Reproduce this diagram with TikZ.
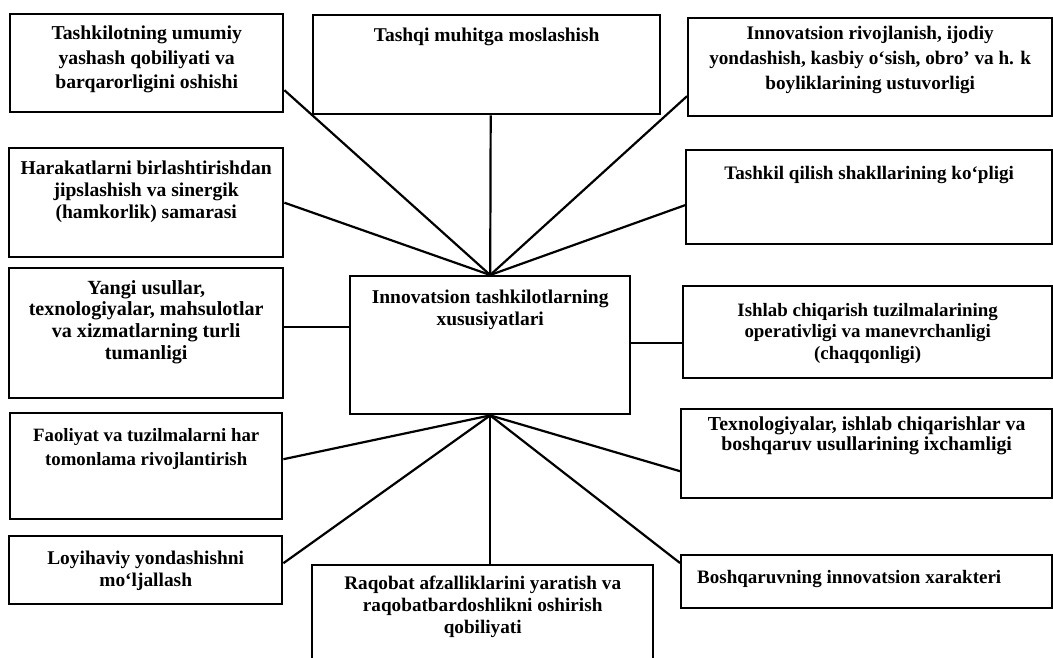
\documentclass[tikz,border=0pt]{standalone}
\usepackage{fontspec}
\setmainfont{Liberation Serif}
\begin{document}
\begin{tikzpicture}[x=1pt,y=-1pt,
  box/.style={draw, line width=2.4pt, rectangle, inner sep=0pt, anchor=north west},
  txt/.style n args={2}{align=center, font=\bfseries\fontsize{#1}{#2}\selectfont, inner sep=0pt, anchor=north},
  link/.style={line width=2.2pt}]
\useasboundingbox (0,0) rectangle (1053,658);
\clip (0,0) rectangle (1053,658);
% boxes
\node[box, minimum width=273pt, minimum height=98pt] (A) at (9,13) {};
\node[box, minimum width=347pt, minimum height=99pt] (B) at (312,14) {};
\node[box, minimum width=364pt, minimum height=98pt] (C) at (687,17) {};
\node[box, minimum width=274pt, minimum height=109pt] (D) at (8,147) {};
\node[box, minimum width=274pt, minimum height=130pt] (E) at (8,267) {};
\node[box, minimum width=280pt, minimum height=138pt] (Cn) at (349,275) {};
\node[box, minimum width=366pt, minimum height=94pt] (F) at (685,149) {};
\node[box, minimum width=369pt, minimum height=92pt] (G) at (682,285) {};
\node[box, minimum width=371pt, minimum height=89pt] (H) at (680,408) {};
\node[box, minimum width=371pt, minimum height=53pt] (I) at (680,554) {};
\node[box, minimum width=272pt, minimum height=106pt] (J) at (9,412) {};
\node[box, minimum width=273pt, minimum height=68pt] (K) at (8,535) {};
\node[box, minimum width=341pt, minimum height=110pt] (L) at (311,564) {};
% texts
\node[txt={19.7}{24.5}] (At) at ([yshift=-13pt]A.north) {Tashkilotning umumiy\\yashash qobiliyati va\\barqarorligini oshishi};
\node[txt={19.5}{23}] (Bt) at ([yshift=-14pt]B.north) {Tashqi muhitga moslashish};
\node[txt={19.2}{25}] (Ct) at ([yshift=-9pt]C.north) {Innovatsion rivojlanish, ijodiy\\yondashish, kasbiy o‘sish, obro’ va h. k\\boyliklarining ustuvorligi};
\node[txt={19.6}{22}] (Dt) at ([yshift=-14pt]D.north) {Harakatlarni birlashtirishdan\\jipslashish va sinergik\\(hamkorlik) samarasi};
\node[txt={20.1}{21.8}] (Et) at ([yshift=-13pt]E.north) {Yangi usullar,\\texnologiyalar, mahsulotlar\\va xizmatlarning turli\\tumanligi};
\node[txt={19.5}{22}] (Cnt) at ([yshift=-15pt]Cn.north) {Innovatsion tashkilotlarning\\xususiyatlari};
\node[txt={19.1}{23}] (Ft) at ([yshift=-17pt]F.north) {Tashkil qilish shakllarining ko‘pligi};
\node[txt={18.9}{21.5}] (Gt) at ([yshift=-18pt]G.north) {Ishlab chiqarish tuzilmalarining\\operativligi va manevrchanligi\\(chaqqonligi)};
\node[txt={19.8}{20}] (Ht) at ([yshift=-9pt]H.north) {Texnologiyalar, ishlab chiqarishlar va\\boshqaruv usullarining ixchamligi};
\node[txt={19.0}{23}, anchor=west] (It) at ([xshift=17pt,yshift=3pt]I.west) {Boshqaruvning innovatsion xarakteri};
\node[txt={18.8}{24}] (Jt) at ([yshift=-16pt]J.north) {Faoliyat va tuzilmalarni har\\tomonlama rivojlantirish};
\node[txt={19.4}{22}] (Kt) at ([yshift=-16pt]K.north) {Loyihaviy yondashishni\\mo‘ljallash};
\node[txt={19.2}{22}] (Lt) at ([yshift=-12pt]L.north) {Raqobat afzalliklarini yaratish va\\raqobatbardoshlikni oshirish\\qobiliyati};
% connectors
\draw[link] (Cn.north) -- ([yshift=-27pt]A.east);
\draw[link] (Cn.north) -- ([xshift=4pt]B.south);
\draw[link] (Cn.north) -- ([yshift=-29pt]C.west);
\draw[link] (Cn.north) -- (D.east);
\draw[link] (Cn.north) -- ([yshift=-8pt]F.west);
\coordinate (e1) at ([yshift=6pt]E.east);
\draw[link] (e1) -- (e1 -| Cn.west);
\coordinate (g1) at ([yshift=-11pt]G.west);
\draw[link] (g1 -| Cn.east) -- (g1);
\draw[link] (Cn.south) -- ([yshift=7pt]J.east);
\draw[link] (Cn.south) -- ([yshift=7pt]K.east);
\draw[link] (Cn.south) -- ([xshift=7.5pt]L.north);
\draw[link] (Cn.south) -- ([yshift=-9pt]I.north west);
\draw[link] (Cn.south) -- ([yshift=-17.5pt]H.west);
\end{tikzpicture}
\end{document}
